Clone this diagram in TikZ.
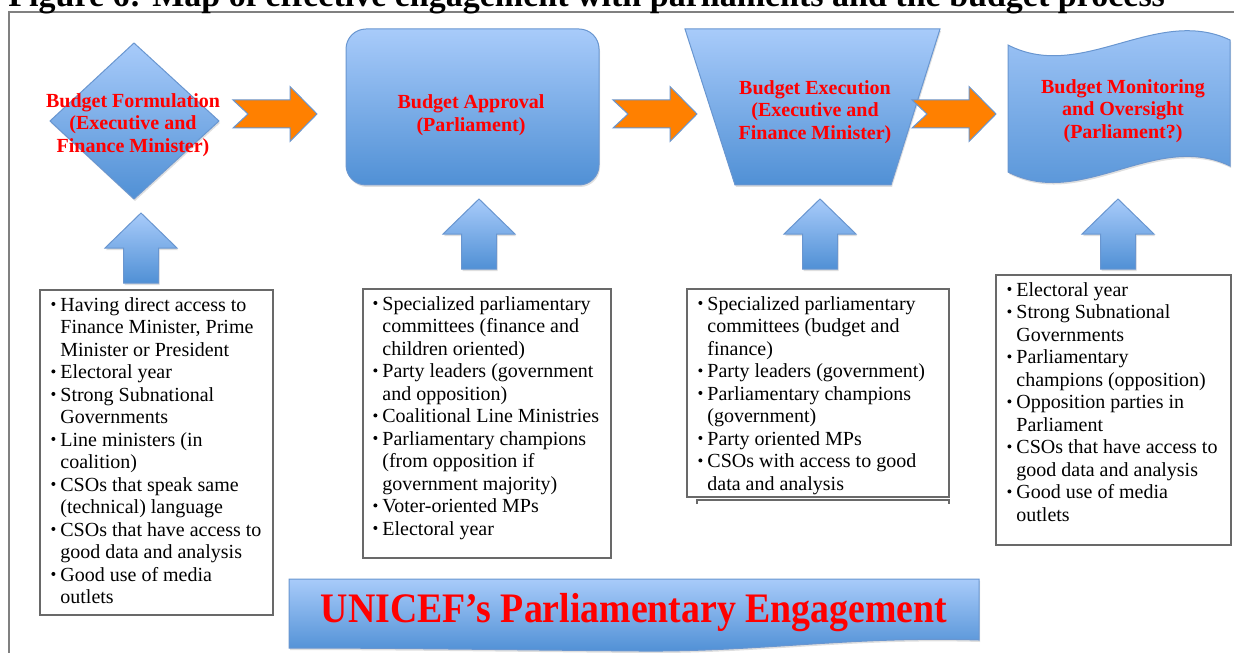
\documentclass[tikz,border=0pt]{standalone}
\usepackage{fontspec}
\setmainfont{Liberation Serif}
\usepackage{tikz}
\usetikzlibrary{shadows}
\usepackage{xcolor}
\definecolor{bluetop}{RGB}{168,203,250}
\definecolor{bluebot}{RGB}{80,144,213}
\definecolor{blueline}{RGB}{105,150,208}
\definecolor{arrorange}{RGB}{255,128,0}
\definecolor{framegray}{RGB}{128,128,128}
\definecolor{boxgray}{RGB}{105,105,105}
\definecolor{stagered}{RGB}{255,0,0}

\tikzstyle{blueshape} = [top color=bluetop, bottom color=bluebot, draw=blueline,%
	line width=0.5pt, drop shadow={opacity=0.25,shadow xshift=0.5pt,shadow yshift=-1pt}]
\tikzstyle{orangearrow} = [fill=arrorange, draw=blueline, line width=0.5pt]
\tikzstyle{stagetext} = [text=stagered, align=center, inner sep=0pt,%
	font=\fontsize{10}{11.25}\selectfont\bfseries]
\tikzstyle{listbox} = [draw=boxgray, line width=0.6pt, fill=white,%
	drop shadow={opacity=0.5,shadow xshift=-0.6pt,shadow yshift=-0.6pt}]
\tikzstyle{listtext} = [anchor=north west, inner sep=0pt, font=\fontsize{10}{11.25}\selectfont]

% notched block arrow, tail at (#1,#2)
\newcommand{\blockright}[2]{%
	\draw[orangearrow, shift={(#1,#2)}] (0,-14) -- (57,-14) -- (57,-27.5) -- (84,0)%
	-- (57,27.5) -- (57,14) -- (0,14) -- (15,0) -- cycle;}
% upward block arrow, tip at (#1,#2)
\newcommand{\blockup}[2]{%
	\draw[blueshape, shift={(#1,#2)}] (0,0) -- (36,35) -- (17.5,35) -- (17.5,70)%
	-- (-17.5,70) -- (-17.5,35) -- (-36,35) -- cycle;}
\newcommand{\itm}{\makebox[4.5pt][l]{\tikz[baseline=0pt]\fill (1pt,3.6pt) circle (1pt);}}

\begin{document}
\begin{tikzpicture}[x=0.5pt,y=-0.5pt]
    \useasboundingbox (0,0) rectangle (1234,652);
    \draw[framegray, line width=1pt] (9,12) rectangle (1300,700);
    \node[anchor=base west, inner sep=0pt, font=\fontsize{17}{17}\selectfont\bfseries] (title) at (8,7)
    {Figure 6: Map of effective engagement with parliaments and the budget process};

    % stages
    \draw[blueshape] (134,43) -- (219,121) -- (134,199) -- (50,121) -- cycle;
    \draw[blueshape, rounded corners=10pt] (346,29) rectangle (599,185);
    \draw[blueshape] (685,29) -- (940,29) -- (891,185) -- (735,185) -- cycle;
    \draw[blueshape] (1008,45) .. controls (1082,83) and (1156,5) .. (1230,40)
        -- (1230,166) .. controls (1156,130) and (1082,210) .. (1008,172) -- cycle;

    \blockright{233}{114}
    \blockright{613}{114}
    \blockright{912}{114}

    \node[stagetext] (formulation) at (133,125) {Budget Formulation\\(Executive and\\Finance Minister)};
    \node[stagetext] (approval) at (471,115) {Budget Approval\\(Parliament)};
    \node[stagetext] (execution) at (815,112) {Budget Execution\\(Executive and\\Finance Minister)};
    \node[stagetext] (monitoring) at (1123,111) {Budget Monitoring\\and Oversight\\(Parliament?)};

    \blockup{141}{213}
    \blockup{479}{199}
    \blockup{820}{199}
    \blockup{1118}{199}

    % actors
    \draw[listbox] (40,290) rectangle (273,615);
    \draw[listbox] (363,289) rectangle (611,558);
    \draw[listbox] (687,289) rectangle (949,497);
    \draw[boxgray, line width=0.6pt] (697,504) -- (697,500) -- (949,500) -- (949,504);
    \draw[listbox] (996,275) rectangle (1231,545);

    \node[listtext] (formlist) at (51,295) {\begin{tabular}{@{}l@{}l@{}}
    \itm & Having direct access to\\ & Finance Minister, Prime\\ & Minister or President\\
    \itm & Electoral year\\
    \itm & Strong Subnational\\ & Governments\\
    \itm & Line ministers (in\\ & coalition)\\
    \itm & CSOs that speak same\\ & (technical) language\\
    \itm & CSOs that have access to\\ & good data and analysis\\
    \itm & Good use of media\\ & outlets
    \end{tabular}};
    \node[listtext] (approvlist) at (373,294) {\begin{tabular}{@{}l@{}l@{}}
    \itm & Specialized parliamentary\\ & committees (finance and\\ & children oriented)\\
    \itm & Party leaders (government\\ & and opposition)\\
    \itm & Coalitional Line Ministries\\
    \itm & Parliamentary champions\\ & (from opposition if\\ & government majority)\\
    \itm & Voter-oriented MPs\\
    \itm & Electoral year
    \end{tabular}};
    \node[listtext] (execlist) at (698,294) {\begin{tabular}{@{}l@{}l@{}}
    \itm & Specialized parliamentary\\ & committees (budget and\\ & finance)\\
    \itm & Party leaders (government)\\
    \itm & Parliamentary champions\\ & (government)\\
    \itm & Party oriented MPs\\
    \itm & CSOs with access to good\\ & data and analysis
    \end{tabular}};
    \node[listtext] (monitlist) at (1007,280) {\begin{tabular}{@{}l@{}l@{}}
    \itm & Electoral year\\
    \itm & Strong Subnational\\ & Governments\\
    \itm & Parliamentary\\ & champions (opposition)\\
    \itm & Opposition parties in\\ & Parliament\\
    \itm & CSOs that have access to\\ & good data and analysis\\
    \itm & Good use of media\\ & outlets
    \end{tabular}};

    % banner
    \draw[blueshape] (289,579) -- (979,579) -- (979,640) .. controls (850,636) and (760,652) .. (640,651)
        .. controls (520,650) and (400,648) .. (289,648) -- cycle;
    \node[text=stagered, inner sep=0pt, font=\fontsize{21}{21}\selectfont\bfseries] (unicef) at (634,613)
    {\scalebox{0.9}[1]{UNICEF’s Parliamentary Engagement}};
\end{tikzpicture}
\end{document}
